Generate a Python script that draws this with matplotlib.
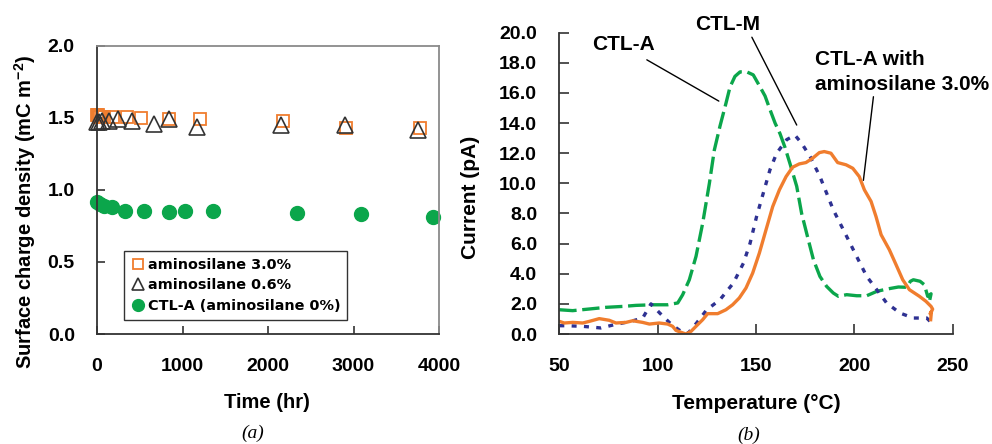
import matplotlib
matplotlib.use("Agg")
import matplotlib.pyplot as plt

plt.rcParams['font.family'] = ['Liberation Sans', 'DejaVu Sans']
plt.rcParams['font.weight'] = 'bold'
plt.rcParams['mathtext.fontset'] = 'custom'
plt.rcParams['mathtext.rm'] = 'Liberation Sans:bold'
plt.rcParams['mathtext.default'] = 'rm'

# ---------------- data (a) ----------------
t_sq = [0, 10, 20, 35, 55, 80, 190, 355, 520, 840, 1200, 2180, 2910, 3775]
q_sq = [1.52, 1.52, 1.51, 1.51, 1.51, 1.51, 1.51, 1.51, 1.50, 1.49, 1.49, 1.48, 1.43, 1.43]
t_tr = [0, 20, 60, 135, 240, 410, 670, 840, 1170, 2155, 2900, 3760]
q_tr = [1.47, 1.47, 1.48, 1.48, 1.49, 1.48, 1.46, 1.49, 1.44, 1.45, 1.45, 1.42]
t_ci = [0, 30, 80, 175, 330, 550, 840, 1025, 1355, 2335, 3085, 3935]
q_ci = [0.92, 0.905, 0.89, 0.88, 0.855, 0.855, 0.845, 0.855, 0.855, 0.84, 0.83, 0.815]
legend_labels = ['aminosilane 3.0%', 'aminosilane 0.6%', 'CTL-A (aminosilane 0%)']

# ---------------- data (b) ----------------
T_ctla = [50, 56.8, 65.3, 73.7, 82.2, 89, 97.5, 105.1, 110.2, 112.7, 116.1, 119.5, 122.9,
          126.3, 128.8, 131.7, 134.7, 136.8, 139.3, 141.9, 145.3, 148.6, 151.2, 154.6,
          157.1, 159.7, 162.2, 164.7, 167.3, 170.7, 173.2, 176.6, 179.2, 182.5, 185.9,
          189.3, 191.9, 196.1, 201.2, 206.3, 211.4, 216.4, 222.4, 226.6, 228.5, 230,
          233.4, 235.6, 237.3, 239, 238]
I_ctla = [1.61, 1.55, 1.66, 1.77, 1.83, 1.9, 1.94, 1.94, 2.06, 2.6, 3.6, 5.15, 7.36,
          10.0, 12.2, 13.8, 15.3, 16.4, 17.1, 17.4, 17.4, 17.2, 16.6, 15.8,
          14.9, 14.0, 13.3, 12.4, 11.3, 9.8, 8.0, 6.25, 4.93, 3.82, 3.16,
          2.72, 2.5, 2.61, 2.54, 2.54, 2.83, 2.98, 3.12, 3.1, 3.5, 3.6,
          3.5, 3.27, 2.5, 2.67, 2.06]
T_ctlm = [50, 53.4, 61.9, 71.2, 78, 86.4, 92.4, 96.6, 101, 105.9, 109.5, 112.7, 115.6,
          119.8, 124.9, 131.7, 138.5, 143.6, 147, 150.3, 153.7, 157.1, 160.5, 165.6,
          169.8, 173.2, 177.5, 182.5, 185.9, 189.3, 194.4, 197.8, 202, 206.3, 211.4,
          216.4, 223.2, 230, 236.8, 239.3]
I_ctlm = [0.55, 0.55, 0.51, 0.4, 0.62, 0.84, 1.06, 2.0, 1.4, 0.77, 0.4, 0.1, 0.07,
          0.73, 1.6, 2.28, 3.38, 4.7, 6.03, 7.8, 9.35, 10.9, 12.0, 12.9,
          13.2, 12.66, 11.78, 10.45, 9.35, 8.24, 6.92, 6.03, 4.93, 3.82, 2.94,
          2.06, 1.39, 1.06, 1.06, 0.73]
T_amino = [50, 52.5, 56.8, 61.9, 65.3, 70.3, 75.4, 78.8, 83.9, 87.3, 92.4, 95.8, 100.8,
           105.1, 107.6, 109.3, 111.9, 114.4, 117, 119.5, 122.9, 125.4, 130.5, 134.7,
           138.1, 141.5, 144.9, 148.3, 151.7, 155.1, 158.5, 161.9, 165.3, 168.6, 172,
           175.4, 178.8, 182.2, 184.7, 188.1, 191.5, 195.8, 199.2, 202.5, 205.1, 208.5,
           211, 213.6, 217.8, 221.2, 224.6, 228, 233.1, 236.4, 239, 239.8, 238.6, 239.2, 238.8]
I_amino = [0.84, 0.73, 0.77, 0.73, 0.84, 1.02, 0.91, 0.73, 0.77, 0.88, 0.77, 0.66, 0.73,
           0.66, 0.51, 0.24, 0.11, 0.0, 0.18, 0.51, 0.95, 1.35, 1.35, 1.61,
           1.94, 2.39, 3.05, 4.04, 5.37, 6.92, 8.46, 9.57, 10.45, 11.07, 11.29,
           11.38, 11.67, 12.04, 12.11, 12.0, 11.38, 11.23, 11.0, 10.45, 9.57, 8.8,
           7.8, 6.59, 5.59, 4.6, 3.6, 2.94, 2.5, 2.17, 1.83, 1.65, 1.35, 1.5, 0.95]

c_orange = '#F07D2E'
c_green = '#0BA64B'
c_blue = '#2E3192'
c_dark = '#333333'

fig = plt.figure(figsize=(9.92, 4.44), dpi=100)

# ---------------- panel (a) ----------------
ax1 = fig.add_axes([97/992, 110/444, 342/992, 288/444])
ax1.plot(t_sq, q_sq, linestyle='none', marker='s', ms=9, mfc='none', mec=c_orange,
         mew=1.3, clip_on=False, label=legend_labels[0])
ax1.plot(t_tr, q_tr, linestyle='none', marker='^', ms=11, mfc='none', mec=c_dark,
         mew=1.2, clip_on=False, label=legend_labels[1])
ax1.plot(t_ci, q_ci, linestyle='none', marker='o', ms=10, mfc=c_green, mec=c_green,
         clip_on=False, label=legend_labels[2])
ax1.set_xlim(0, 4000)
ax1.set_ylim(0, 2.0)
ax1.set_xticks([0, 1000, 2000, 3000, 4000])
ax1.set_yticks([0, 0.5, 1.0, 1.5, 2.0])
ax1.set_yticklabels(['0.0', '0.5', '1.0', '1.5', '2.0'])
ax1.tick_params(direction='in', length=6, width=1.2, color=c_dark, labelsize=14)
ax1.tick_params(axis='x', pad=17)
ax1.tick_params(axis='y', pad=16)
for s in ['left', 'bottom']:
    ax1.spines[s].set_color(c_dark)
    ax1.spines[s].set_linewidth(1.3)
for s in ['top', 'right']:
    ax1.spines[s].set_color('#8a8a8a')
    ax1.spines[s].set_linewidth(1.3)
leg = ax1.legend(loc='upper left', bbox_to_anchor=(0.079, 0.288), frameon=True,
                 fancybox=False, framealpha=1, edgecolor=c_dark,
                 prop={'family': 'DejaVu Sans', 'weight': 'bold', 'size': 10.4},
                 handletextpad=0.2, handlelength=1.0, labelspacing=0.48,
                 borderpad=0.45, borderaxespad=0, markerscale=0.85)
leg.get_frame().set_linewidth(1.0)

fig.text(267/992, 1 - 402/444, 'Time (hr)', ha='center', va='center', fontsize=14.5,
         fontweight='bold')
fig.text(25/992, 1 - 212/444, 'Surface charge density (mC m$^{-2}$)', rotation=90,
         ha='center', va='center', fontsize=14.5, fontweight='bold')
fig.text(253/992, 1 - 433/444, '(a)', ha='center', va='center', fontsize=14,
         family='Liberation Serif', style='italic', fontweight='normal')

# ---------------- panel (b) ----------------
ax2 = fig.add_axes([559.3/992, 110/444, 393.4/992, 301.3/444])
ax2.plot(T_ctla, I_ctla, color=c_green, lw=2.4, linestyle=(0, (5.2, 1.7)))
ax2.plot(T_ctlm, I_ctlm, color=c_blue, lw=2.4, linestyle=(0, (1.5, 2.2)))
ax2.plot(T_amino, I_amino, color=c_orange, lw=2.4)
ax2.set_xlim(50, 250)
ax2.set_ylim(0, 20)
ax2.set_xticks([50, 100, 150, 200, 250])
ax2.set_yticks([0, 2, 4, 6, 8, 10, 12, 14, 16, 18, 20])
ax2.set_yticklabels(['%.1f' % v for v in [0, 2, 4, 6, 8, 10, 12, 14, 16, 18, 20]])
ax2.tick_params(direction='in', length=7, width=1.2, color=c_dark, labelsize=14)
ax2.tick_params(axis='x', pad=17)
ax2.tick_params(axis='y', pad=16)
ax2.spines['top'].set_visible(False)
ax2.spines['right'].set_visible(False)
for s in ['left', 'bottom']:
    ax2.spines[s].set_color(c_dark)
    ax2.spines[s].set_linewidth(1.3)

tkw = dict(fontsize=15, fontweight='bold', ha='left', va='center', clip_on=False)
lkw = dict(annotation_clip=False,
           arrowprops=dict(arrowstyle='-', color='black', lw=1.0, shrinkA=0, shrinkB=0))
ax2.text(66.5, 19.2, 'CTL-A', **tkw)
ax2.annotate('', xy=(131.1, 15.46), xytext=(94.5, 18.2), **lkw)
ax2.text(119, 20.57, 'CTL-M', **tkw)
ax2.annotate('', xy=(170.7, 13.87), xytext=(147.9, 19.7), **lkw)
ax2.text(180, 17.4, 'CTL-A with\naminosilane 3.0%', linespacing=1.4, **tkw)
ax2.annotate('', xy=(204.6, 10.2), xytext=(209.7, 15.75), **lkw)

fig.text(756.5/992, 1 - 403/444, 'Temperature (°C)', ha='center', va='center',
         fontsize=15, fontweight='bold')
fig.text(470/992, 1 - 197/444, 'Current (pA)', rotation=90, ha='center', va='center',
         fontsize=15, fontweight='bold')
fig.text(749/992, 1 - 435/444, '(b)', ha='center', va='center', fontsize=14,
         family='Liberation Serif', style='italic', fontweight='normal')

fig.savefig('out.png', dpi=100)
